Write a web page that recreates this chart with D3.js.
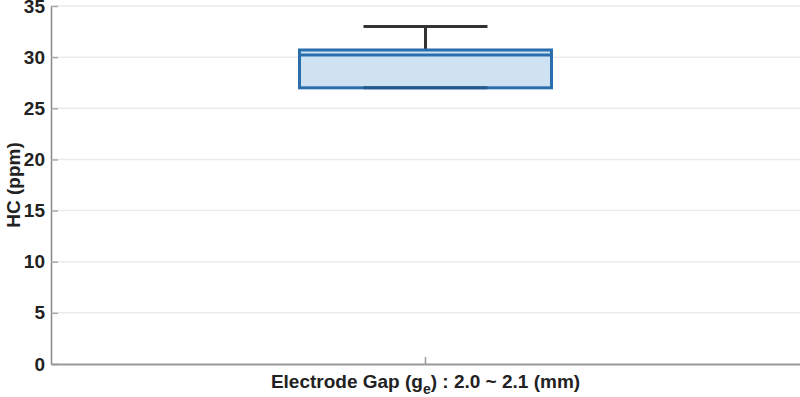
<!DOCTYPE html>
<html>
<head>
<meta charset="utf-8">
<script src="https://cdn.jsdelivr.net/npm/d3@7"></script>
<style>
  body { margin: 0; background: #fff; }
  text { font-family: "Liberation Sans", Arial, sans-serif; font-weight: bold; fill: #222; }
</style>
</head>
<body>
<div id="content"></div>
<script>
// data
const categories = ["Electrode Gap (ge) : 2.0 ~ 2.1 (mm)"];
const whiskerLow = [27.0];
const q1 = [27.0];
const median = [30.2];
const q3 = [30.7];
const whiskerHigh = [33.0];
const yTicks = [0, 5, 10, 15, 20, 25, 30, 35];

const width = 800;
const height = 397;
const margin = { left: 51, right: 0, top: 6, bottom: 33 };

const svg = d3.select("#content")
    .append("svg")
    .attr("width", width)
    .attr("height", height);

const xScale = d3.scaleBand()
    .domain(categories)
    .range([margin.left, width - margin.right])
    .paddingInner(0)
    .paddingOuter(0.15);

const yScale = d3.scaleLinear()
    .domain([0, 35])
    .range([height - margin.bottom, margin.top]);

// grid
svg.append("g")
    .selectAll("line")
    .data(yTicks.filter(d => d > 0))
    .enter()
    .append("line")
    .attr("x1", margin.left)
    .attr("x2", width)
    .attr("y1", d => yScale(d))
    .attr("y2", d => yScale(d))
    .attr("stroke", "#ebebeb")
    .attr("stroke-width", 1.5);

const boxW = 252;
const capW = 124;
const cx = d => xScale(d) + xScale.bandwidth() / 2;

const boxes = svg.append("g")
    .selectAll("g")
    .data(categories)
    .enter()
    .append("g");

boxes.append("line")
    .attr("x1", cx)
    .attr("x2", cx)
    .attr("y1", (d, i) => yScale(whiskerHigh[i]))
    .attr("y2", (d, i) => yScale(q3[i]))
    .attr("stroke", "#333")
    .attr("stroke-width", 3);

boxes.append("line")
    .attr("x1", d => cx(d) - capW / 2)
    .attr("x2", d => cx(d) + capW / 2)
    .attr("y1", (d, i) => yScale(whiskerHigh[i]))
    .attr("y2", (d, i) => yScale(whiskerHigh[i]))
    .attr("stroke", "#333")
    .attr("stroke-width", 3);

boxes.append("rect")
    .attr("x", d => cx(d) - boxW / 2)
    .attr("y", (d, i) => yScale(q3[i]))
    .attr("width", boxW)
    .attr("height", (d, i) => yScale(q1[i]) - yScale(q3[i]))
    .attr("fill", "#cfe2f1")
    .attr("stroke", "#2a6eae")
    .attr("stroke-width", 3);

boxes.append("line")
    .attr("x1", d => cx(d) - capW / 2)
    .attr("x2", d => cx(d) + capW / 2)
    .attr("y1", (d, i) => yScale(whiskerLow[i]))
    .attr("y2", (d, i) => yScale(whiskerLow[i]))
    .attr("stroke", "#24598c")
    .attr("stroke-width", 3);

boxes.append("line")
    .attr("x1", d => cx(d) - boxW / 2)
    .attr("x2", d => cx(d) + boxW / 2)
    .attr("y1", (d, i) => yScale(median[i]))
    .attr("y2", (d, i) => yScale(median[i]))
    .attr("stroke", "#2a6eae")
    .attr("stroke-width", 3);

// axes
const yAxis = d3.axisLeft(yScale)
    .tickValues(yTicks)
    .tickSizeInner(-7)
    .tickSizeOuter(0)
    .tickPadding(6);

const yG = svg.append("g")
    .attr("transform", `translate(${margin.left}, 0)`)
    .call(yAxis);
yG.select(".domain").attr("stroke", "#888").attr("stroke-width", 1.5);
yG.selectAll(".tick line").attr("stroke", "#aaa").attr("stroke-width", 1.5);
yG.selectAll(".tick text").style("font-size", "19px").attr("fill", "#222");

const xAxis = d3.axisBottom(xScale)
    .tickSizeInner(-7)
    .tickSizeOuter(0)
    .tickFormat("");

const xG = svg.append("g")
    .attr("transform", `translate(0, ${height - margin.bottom})`)
    .call(xAxis);
xG.select(".domain").attr("stroke", "#999").attr("stroke-width", 2);
xG.selectAll(".tick line").attr("stroke", "#999").attr("stroke-width", 1.5);

// x label with subscript
const xl = svg.append("text")
    .attr("x", cx(categories[0]))
    .attr("y", 388)
    .attr("text-anchor", "middle")
    .style("font-size", "19px");
xl.append("tspan").text("Electrode Gap (g");
xl.append("tspan").attr("dy", 6).style("font-size", "14px").text("e");
xl.append("tspan").attr("dy", -6).text(") : 2.0 ~ 2.1 (mm)");

svg.append("text")
    .attr("transform", `translate(20, ${(yScale(0) + yScale(35)) / 2}) rotate(-90)`)
    .attr("text-anchor", "middle")
    .style("font-size", "19px")
    .text("HC (ppm)");
</script>
</body>
</html>
